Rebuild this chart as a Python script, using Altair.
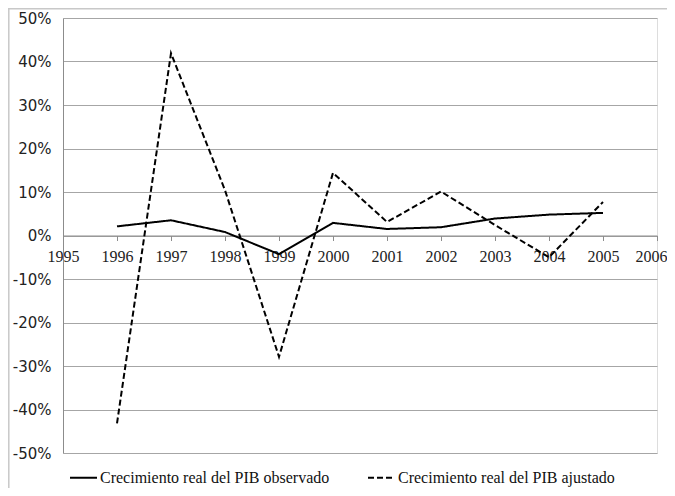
import altair as alt
import pandas as pd

years = [1996, 1997, 1998, 1999, 2000, 2001, 2002, 2003, 2004, 2005]
observado = [2.1, 3.5, 0.8, -4.3, 2.9, 1.5, 1.9, 3.9, 4.8, 5.2]
ajustado = [-43.2, 41.9, 10.4, -27.9, 14.4, 3.1, 10.1, 2.4, -5.0, 7.7]
series = ["Crecimiento real del PIB observado", "Crecimiento real del PIB ajustado"]
x_ticks = list(range(1995, 2007))
y_ticks = [-0.5, -0.4, -0.3, -0.2, -0.1, 0.0, 0.1, 0.2, 0.3, 0.4, 0.5]

rows = []
for i, yr in enumerate(years):
    rows.append({"año": yr, "valor": observado[i] / 100, "serie": series[0]})
    rows.append({"año": yr, "valor": ajustado[i] / 100, "serie": series[1]})
df = pd.DataFrame(rows)

W, H = 594, 435

lines = alt.Chart(df).mark_line(color="black", strokeWidth=2).encode(
    x=alt.X("año:Q",
            scale=alt.Scale(domain=[1995, 2006], nice=False, zero=False),
            axis=alt.Axis(values=x_ticks, format="d", grid=False, title=None,
                          orient="bottom", offset=-H / 2,
                          domainColor="#8c8c8c", tickColor="#8c8c8c", tickSize=5,
                          labelFont="Liberation Serif", labelFontSize=16,
                          labelColor="#222", labelPadding=8,
                          labelOffset={"condition": {"test": "datum.value == 2006", "value": -6}, "value": 0},
                          labelFlush=False, labelOverlap=False)),
    y=alt.Y("valor:Q",
            scale=alt.Scale(domain=[-0.5, 0.5], nice=False),
            axis=alt.Axis(values=y_ticks, format=".0%", title=None,
                          labelExpr="replace(datum.label, '\u2212', '-')",
                          grid=True, gridColor="#a6a6a6", gridWidth=1,
                          ticks=False, domainColor="#8c8c8c",
                          labelFont="DejaVu Sans", labelFontSize=15,
                          labelColor="#222", labelPadding=12)),
    strokeDash=alt.StrokeDash("serie:N",
                              scale=alt.Scale(domain=series, range=[[1, 0], [6, 3]]),
                              legend=alt.Legend(title=None, orient="none",
                                                legendX=6, legendY=445,
                                                direction="horizontal", columns=2,
                                                columnPadding=34, padding=0,
                                                symbolType="stroke", symbolSize=729,
                                                symbolStrokeWidth=2,
                                                symbolStrokeColor="black",
                                                labelFont="Liberation Serif",
                                                labelFontSize=16, labelColor="#111",
                                                labelOffset=2, labelLimit=400)),
    order="año:Q",
)

border_df = pd.DataFrame({"k": [0]})
top_border = alt.Chart(border_df).mark_rule(color="#c8c8c8", strokeWidth=1.5).encode(
    x=alt.value(-56), x2=alt.value(W + 12), y=alt.value(-9.2))
left_border = alt.Chart(border_df).mark_rule(color="#c8c8c8", strokeWidth=1.5).encode(
    x=alt.value(-54.2), y=alt.value(-11), y2=alt.value(H + 40))

chart = alt.layer(top_border, left_border, lines).properties(
    width=W, height=H,
    autosize=alt.AutoSizeParams(type="none"),
    padding={"left": 55, "top": 10, "right": 10, "bottom": 35},
).configure_view(stroke=None).configure(background="white")

chart.save("out.html", embed_options={"renderer": "svg", "actions": False})
